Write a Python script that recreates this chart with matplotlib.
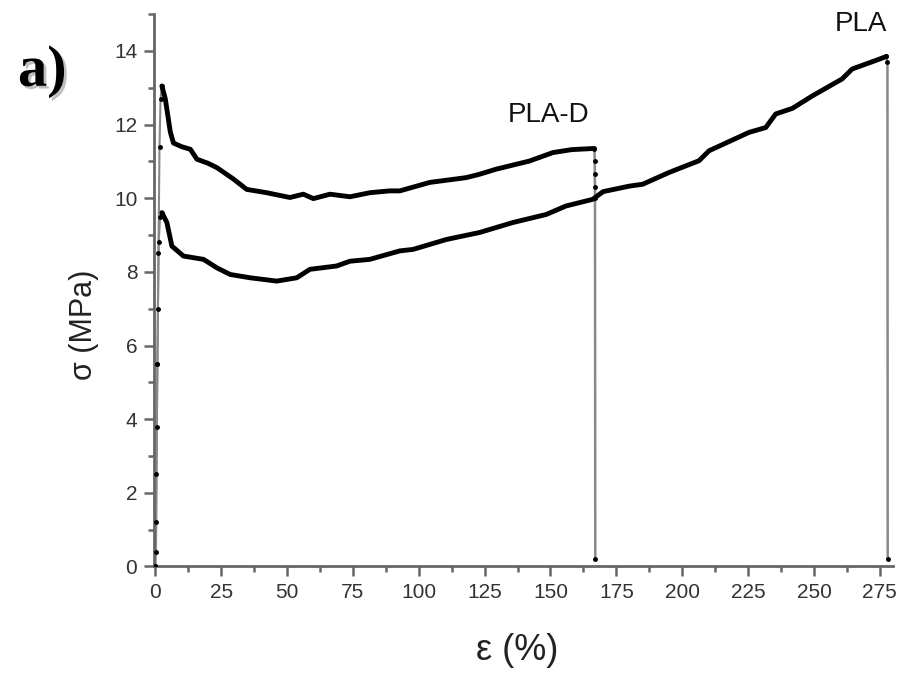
import numpy as np
import matplotlib
matplotlib.use("Agg")
import matplotlib.pyplot as plt
from matplotlib.ticker import MultipleLocator
import matplotlib.patheffects as pe

# PLA-D curve (strain %, stress MPa)
pla_d_strain = [0, 0.4, 0.8, 1.2, 1.6, 2.0, 2.5, 3.8, 5.7, 6.9, 10.0, 13.3, 15.8,
                20.0, 23.4, 29.7, 34.7, 42.3, 51.1, 56.2, 60.0, 66.3, 73.9, 81.4,
                89.0, 92.8, 104.2, 118.0, 123.0, 129.4, 142.0, 150.9, 158.0, 166.0,
                166.7, 166.8, 166.8, 166.9, 166.9, 167.0]
pla_d_stress = [0, 2.5, 5.5, 8.5, 11.4, 12.7, 13.05, 12.7, 11.8, 11.5, 11.4, 11.33, 11.06,
                10.95, 10.83, 10.52, 10.24, 10.15, 10.02, 10.11, 9.99, 10.11, 10.04, 10.15,
                10.2, 10.2, 10.43, 10.56, 10.65, 10.79, 11.01, 11.24, 11.32, 11.35,
                11.35, 11.0, 10.65, 10.3, 10.0, 0.2]

# PLA curve
pla_strain = [0, 0.2, 0.4, 0.6, 0.8, 1.0, 1.3, 1.8, 2.5, 4.4, 6.3, 10.7, 18.3, 23.4,
              28.4, 36.0, 46.1, 53.7, 58.7, 68.8, 73.9, 81.4, 92.8, 97.8, 110.5, 123.1,
              135.7, 148.4, 155.9, 166.0, 170.0, 180.0, 185.0, 195.0, 206.4, 210.2,
              225.4, 231.7, 235.5, 241.8, 249.4, 260.7, 264.5, 273.4, 277.5, 277.9, 278.0]
pla_stress = [0, 0.4, 1.2, 3.8, 5.5, 7.0, 8.8, 9.5, 9.61, 9.34, 8.70, 8.43, 8.34, 8.11,
              7.93, 7.84, 7.75, 7.84, 8.07, 8.16, 8.29, 8.34, 8.57, 8.61, 8.88, 9.07,
              9.34, 9.56, 9.79, 9.97, 10.18, 10.33, 10.38, 10.7, 11.02, 11.29,
              11.79, 11.92, 12.29, 12.44, 12.78, 13.24, 13.51, 13.74, 13.85, 13.7, 0.2]

labels = ["PLA-D", "PLA"]
label_pos = [(149.2, 12.25), (267.8, 14.72)]

plt.rcParams['font.family'] = ['Liberation Sans', 'DejaVu Sans']

fig = plt.figure(figsize=(9.02, 6.73), dpi=100)
ax = fig.add_axes([0.1707, 0.1583, 0.8193, 0.8207])

for xs, ys, n_tail in [(pla_d_strain, pla_d_stress, 6), (pla_strain, pla_stress, 3)]:
    xs = np.array(xs)
    ys = np.array(ys)
    ipk = int(np.argmax(ys[xs < 5]))
    # elastic rise: thin grey with sparse dots
    ax.plot(xs[:ipk + 1], ys[:ipk + 1], color="#888888", lw=1.5, zorder=2)
    ax.plot(xs[:ipk + 1], ys[:ipk + 1], "o", color="black", ms=2.5, zorder=3)
    # plastic part: thick black
    ax.plot(xs[ipk:len(xs) - n_tail + 1], ys[ipk:len(xs) - n_tail + 1],
            color="black", lw=3.5, solid_capstyle="round", solid_joinstyle="round", zorder=3)
    # break: grey drop with dots
    ax.plot(xs[-n_tail:], ys[-n_tail:], color="#888888", lw=1.8, zorder=2)
    ax.plot(xs[-n_tail:], ys[-n_tail:], "o", color="black", ms=2.5, zorder=3)

for lab, (tx, ty) in zip(labels, label_pos):
    ax.text(tx, ty, lab, fontsize=20, ha="center", va="center", color="#111111")

ax.set_xlim(-0.5, 280)
ax.set_ylim(0, 15)
ax.xaxis.set_major_locator(MultipleLocator(25))
ax.xaxis.set_minor_locator(MultipleLocator(12.5))
ax.yaxis.set_major_locator(MultipleLocator(2))
ax.yaxis.set_minor_locator(MultipleLocator(1))

for s in ["top", "right"]:
    ax.spines[s].set_visible(False)
for s in ["left", "bottom"]:
    ax.spines[s].set_color("#666666")
    ax.spines[s].set_linewidth(2)

ax.tick_params(which="major", direction="out", length=7, width=1.8, color="#666666",
               labelsize=15, labelcolor="#333333", pad=5)
ax.tick_params(which="minor", direction="out", length=4, width=1.8, color="#666666")

fig.text(0.093, 0.517, "σ (MPa)", rotation=90, fontsize=22, ha="center", va="center",
         color="#222222")
fig.text(0.573, 0.033, "ε (%)", fontsize=26, ha="center", va="center", color="#222222")
fig.text(0.047, 0.893, "a)", fontsize=42, fontweight="bold", family="Liberation Serif",
         ha="center", va="center", color="black",
         path_effects=[pe.withSimplePatchShadow(offset=(2, -2), shadow_rgbFace="gray",
                                                alpha=0.5)])

fig.savefig("out.png", dpi=100)
